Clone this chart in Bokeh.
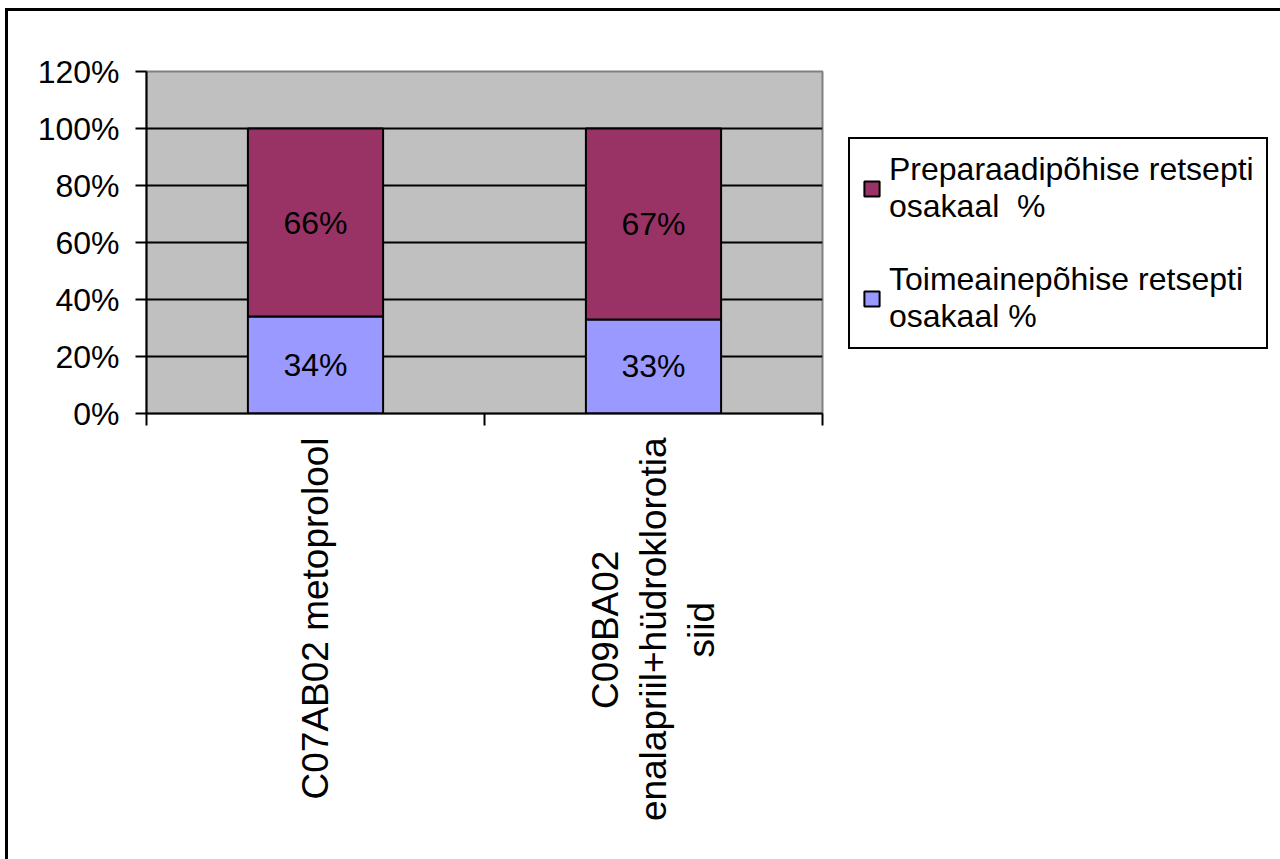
import numpy as np
from bokeh.plotting import figure
from bokeh.models import (ColumnDataSource, FixedTicker, NumeralTickFormatter,
                          Range1d, Legend, LegendItem)
from bokeh.core.properties import value
from bokeh.embed import file_html
from bokeh.resources import INLINE

# Prescription shares per active substance group
categories = ["C07AB02 metoprolool",
              "C09BA02\nenalapriil+hüdroklorotia\nsiid"]
toimeaine_share = [0.34, 0.33]     # Toimeainepõhise retsepti osakaal
preparaadi_share = [0.66, 0.67]    # Preparaadipõhise retsepti osakaal
series_labels = ["Toimeainepõhise retsepti\nosakaal %",
                 "Preparaadipõhise retsepti\nosakaal  %"]
y_ticks = [0.0, 0.2, 0.4, 0.6, 0.8, 1.0, 1.2]

FONT = "Liberation Sans"
LAVENDER = "#9999FF"
MAROON = "#993366"

# approximate advance widths (em) of Liberation Sans, used to centre the
# lines of a multi-line tick label (the axis aligns them at their ends)
_ADV = {" ": .278, "\u00a0": .278, "+": .584, "A": .667, "B": .667, "C": .722,
        "i": .222, "l": .222, "k": .5, "s": .5, "r": .333, "t": .278, "m": .833}


def _width(s):
    return sum(_ADV.get(ch, .556) for ch in s)


def centred(label):
    lines = label.split("\n")
    full = max(_width(ln) for ln in lines)
    out = []
    for ln in lines:
        pad = int(round((full - _width(ln)) / 2 / _ADV["\u00a0"]))
        out.append(ln + "\u00a0" * pad)
    return "\n".join(out)


xs = [i + 0.5 for i in range(len(categories))]
src = ColumnDataSource(dict(x=xs, toime=toimeaine_share, prep=preparaadi_share))

p = figure(frame_width=676, frame_height=342, output_backend="svg",
           toolbar_location=None,
           x_range=Range1d(0, len(categories)), y_range=Range1d(0, 1.2),
           min_border_left=138, min_border_right=2,
           min_border_top=60, min_border_bottom=446)
p.styles = {"margin-left": "5px", "margin-top": "8px",
            "border-left": "3px solid black", "border-top": "3px solid black",
            "border-right": "3px solid black"}

p.background_fill_color = "#C0C0C0"
p.border_fill_color = "white"
p.outline_line_color = "#808080"
p.outline_line_width = 2

# horizontal gridlines between 0% and 120%
p.xgrid.visible = False
p.ygrid.ticker = FixedTicker(ticks=y_ticks[1:-1])
p.ygrid.grid_line_color = "black"
p.ygrid.grid_line_width = 2

bars = p.vbar_stack(["toime", "prep"], x="x", width=0.4, source=src,
                    color=[LAVENDER, MAROON], line_color="black", line_width=2)

# value labels in the middle of each segment
lab_x, lab_y, lab_t = [], [], []
for x, a, b in zip(xs, toimeaine_share, preparaadi_share):
    lab_x += [x, x]
    lab_y += [a / 2, a + b / 2]
    lab_t += [f"{a:.0%}", f"{b:.0%}"]
p.text(x=lab_x, y=lab_y, text=lab_t, text_align="center", text_baseline="middle",
       text_font=value(FONT), text_font_size="32px", text_color="black")

# y axis
yax = p.yaxis[0]
yax.ticker = FixedTicker(ticks=y_ticks)
yax.formatter = NumeralTickFormatter(format="0%")
yax.major_label_text_font = FONT
yax.major_label_text_font_size = "32px"
yax.major_label_text_color = "black"
yax.major_label_standoff = 16
yax.major_tick_out = 11
yax.major_tick_in = 0
yax.major_tick_line_width = 2
yax.major_tick_line_color = "black"
yax.minor_tick_line_color = None
yax.axis_line_width = 2
yax.axis_line_color = "black"

# x axis: labels at bar centres, tick marks at category boundaries
xax = p.xaxis[0]
xax.ticker = FixedTicker(ticks=xs, minor_ticks=list(range(len(categories) + 1)))
xax.major_label_overrides = {x: centred(c) for x, c in zip(xs, categories)}
xax.major_label_orientation = np.pi / 2
xax.major_label_text_font = FONT
xax.major_label_text_font_size = "37px"
xax.major_label_text_color = "black"
xax.major_label_text_line_height = 1.17
xax.major_label_standoff = 12
xax.major_tick_out = 0
xax.major_tick_in = 0
xax.minor_tick_out = 12
xax.minor_tick_in = 0
xax.minor_tick_line_width = 2
xax.minor_tick_line_color = "black"
xax.axis_line_width = 2
xax.axis_line_color = "black"

legend = Legend(items=[LegendItem(label=series_labels[1], renderers=[bars[1]]),
                       LegendItem(label=series_labels[0], renderers=[bars[0]])],
                location=(26, 64))
legend.label_text_font = FONT
legend.label_text_font_size = "32px"
legend.label_text_color = "black"
legend.label_text_line_height = 1.2
legend.glyph_width = 19
legend.glyph_height = 19
legend.border_line_color = "black"
legend.border_line_width = 2
legend.border_line_alpha = 1
legend.background_fill_color = "white"
legend.background_fill_alpha = 1
legend.padding = 12
legend.spacing = 36
legend.label_standoff = 8
legend.margin = 0
p.add_layout(legend, "right")

open("out.html", "w").write(file_html(p, INLINE))
